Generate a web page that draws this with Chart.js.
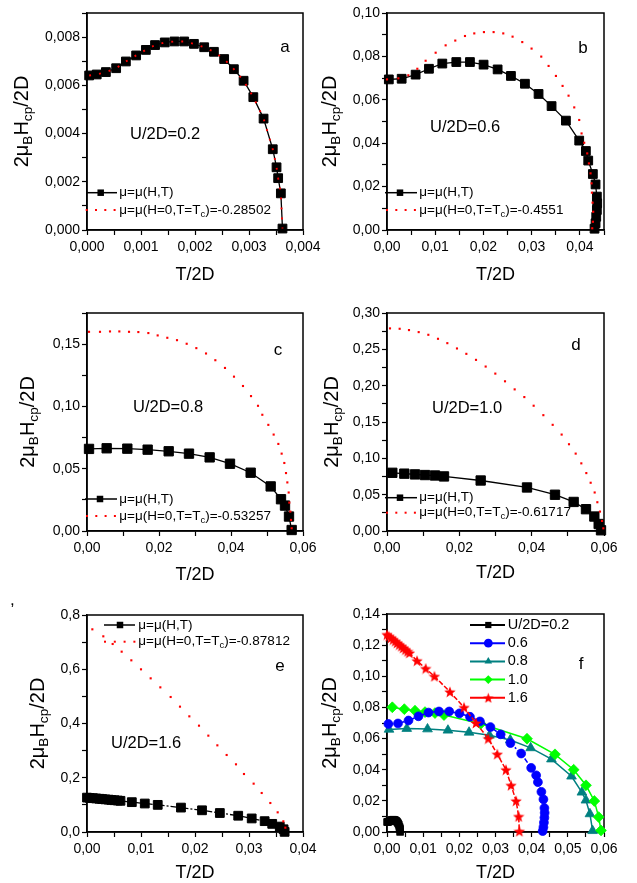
<!DOCTYPE html>
<html>
<head>
<meta charset="utf-8">
<script src="https://cdn.jsdelivr.net/npm/chart.js@4.4.1/dist/chart.umd.min.js"></script>
<style>
  body { margin: 0; background: #fff; width: 637px; height: 883px; position: relative; overflow: hidden; }
  canvas { position: absolute; }
  .stray { position: absolute; left: 10px; top: 590px; font: 17px "Liberation Sans", Arial, sans-serif; }
</style>
</head>
<body>
<canvas id="ca" width="330" height="292" style="left:0;top:0"></canvas>
<canvas id="cb" width="330" height="292" style="left:307px;top:0"></canvas>
<canvas id="cc" width="330" height="292" style="left:0;top:292px"></canvas>
<canvas id="cd" width="330" height="292" style="left:307px;top:292px"></canvas>
<canvas id="ce" width="330" height="299" style="left:0;top:584px"></canvas>
<canvas id="cf" width="330" height="299" style="left:307px;top:584px"></canvas>
<div class="stray">,</div>
<script>
// critical field vs temperature
// a: U/2D = 0.2
const aT = [0.00004, 0.00018, 0.00035, 0.00054, 0.00072, 0.00091, 0.00109, 0.00126, 0.00144, 0.00162, 0.00180, 0.00198,
            0.00217, 0.00235, 0.00254, 0.00272, 0.00290, 0.00308, 0.00327, 0.00344, 0.00351, 0.00354, 0.00359, 0.00362];
const aH = [0.00641, 0.00645, 0.00655, 0.00671, 0.00699, 0.00724, 0.00747, 0.00767, 0.00778, 0.00782, 0.00782, 0.00772,
            0.00758, 0.00739, 0.00709, 0.00667, 0.00619, 0.00551, 0.00462, 0.00335, 0.00260, 0.00215, 0.00152, 0.00006];

// b: U/2D = 0.6
const bT = [0.00038, 0.00304, 0.00594, 0.00870, 0.01147, 0.01437, 0.01720, 0.02003, 0.02294, 0.02570, 0.02860, 0.03143, 0.03413,
            0.03710, 0.03986, 0.04124, 0.04173, 0.04269, 0.04325, 0.04352, 0.04359, 0.04352, 0.04339, 0.04325, 0.04304];
const bH = [0.0694, 0.0697, 0.0716, 0.0743, 0.0767, 0.0774, 0.0774, 0.0762, 0.0740, 0.0710, 0.0674, 0.0627, 0.0571,
            0.0504, 0.0412, 0.0364, 0.0320, 0.0258, 0.0210, 0.0154, 0.0123, 0.0092, 0.0061, 0.0031, 0.0006];
const bRedT = [0, 0.00235, 0.00442, 0.00629, 0.00801, 0.01009, 0.01216, 0.01416, 0.01617, 0.01810, 0.02010, 0.02211, 0.02411,
               0.02604, 0.02805, 0.02998, 0.03199, 0.03351, 0.03503, 0.03641, 0.03765, 0.03883, 0.03986, 0.04035, 0.04090,
               0.04152, 0.04187, 0.04221, 0.04242, 0.04249, 0.04263, 0.04276, 0.04270, 0.04256];
const bRedH = [0.0694, 0.0699, 0.0713, 0.0743, 0.0780, 0.0817, 0.0851, 0.0873, 0.0894, 0.0906, 0.0912, 0.0912, 0.0906,
               0.0891, 0.0866, 0.0836, 0.0799, 0.0756, 0.0710, 0.0664, 0.0619, 0.0565, 0.0507, 0.0445, 0.0402,
               0.0353, 0.0307, 0.0261, 0.0215, 0.0172, 0.0126, 0.0084, 0.0038, 0.0008];

// c: U/2D = 0.8
const cT = [0.00056, 0.00546, 0.01120, 0.01685, 0.02269, 0.02833, 0.03407, 0.03972, 0.04546, 0.05102, 0.05389, 0.05500, 0.05611, 0.05685];
const cH = [0.0659, 0.0664, 0.0661, 0.0653, 0.0640, 0.0621, 0.0591, 0.0540, 0.0468, 0.0358, 0.0255, 0.0204, 0.0116, 0.0008];
const cRedT = [0.00056, 0.00361, 0.00639, 0.00898, 0.01167, 0.01426, 0.01704, 0.01963, 0.02231, 0.02500, 0.02769, 0.03037,
               0.03306, 0.03565, 0.03833, 0.04083, 0.04333, 0.04556, 0.04750, 0.04870, 0.05037, 0.05185, 0.05315, 0.05407,
               0.05481, 0.05528, 0.05565, 0.05602, 0.05620, 0.05648, 0.05667, 0.05685];
const cRedH = [0.1599, 0.1599, 0.1602, 0.1602, 0.1599, 0.1597, 0.1589, 0.1570, 0.1551, 0.1532, 0.1503, 0.1468,
               0.1425, 0.1371, 0.1309, 0.1239, 0.1164, 0.1083, 0.1005, 0.0933, 0.0852, 0.0774, 0.0699, 0.0621,
               0.0546, 0.0465, 0.0390, 0.0309, 0.0228, 0.0156, 0.0089, 0.0022];

// d: U/2D = 1.0
const dT = [0.00147, 0.00479, 0.00774, 0.01051, 0.01327, 0.01576, 0.02590, 0.03871, 0.04645, 0.05161, 0.05502, 0.05733, 0.05853, 0.05917];
const dH = [0.0801, 0.0789, 0.0779, 0.0770, 0.0764, 0.0751, 0.0695, 0.0599, 0.0499, 0.0400, 0.0300, 0.0199, 0.0096, 0.0010];
const dRedT = [0.00083, 0.00350, 0.00608, 0.00876, 0.01143, 0.01410, 0.01668, 0.01935, 0.02194, 0.02461, 0.02728, 0.02995,
               0.03263, 0.03530, 0.03797, 0.04055, 0.04323, 0.04581, 0.04829, 0.05032, 0.05217, 0.05373, 0.05511, 0.05631,
               0.05742, 0.05816, 0.05889, 0.05945, 0.05982];
const dRedH = [0.2788, 0.2783, 0.2765, 0.2737, 0.2700, 0.2645, 0.2585, 0.2512, 0.2438, 0.2355, 0.2263, 0.2166,
               0.2060, 0.1949, 0.1843, 0.1724, 0.1594, 0.1461, 0.1327, 0.1194, 0.1065, 0.0931, 0.0797, 0.0664,
               0.0530, 0.0396, 0.0267, 0.0138, 0.0037];

// e: U/2D = 1.6
const eT = [0.0000, 0.0005, 0.0011, 0.0017, 0.0023, 0.0028, 0.0034, 0.0040, 0.0045, 0.0051, 0.0057, 0.0062, 0.0083,
            0.0107, 0.0131, 0.0174, 0.0213, 0.0246, 0.0280, 0.0305, 0.0329, 0.0343, 0.0357, 0.0364, 0.0366];
const eH = [0.1268, 0.1257, 0.1247, 0.1236, 0.1225, 0.1214, 0.1203, 0.1193, 0.1182, 0.1171, 0.1160, 0.1150, 0.1100,
            0.1050, 0.1000, 0.0900, 0.0800, 0.0700, 0.0600, 0.0500, 0.0400, 0.0300, 0.0200, 0.0100, 0.0005];
const eRedT = [0.00099, 0.00302, 0.00475, 0.00642, 0.00821, 0.01000, 0.01179, 0.01358, 0.01549, 0.01722, 0.01895, 0.02074,
               0.02247, 0.02414, 0.02586, 0.02759, 0.02907, 0.03086, 0.03235, 0.03395, 0.03531, 0.03636, 0.03673];
const eRedH = [0.7472, 0.7214, 0.6931, 0.6648, 0.6329, 0.5997, 0.5665, 0.5333, 0.4977, 0.4621, 0.4264, 0.3920,
               0.3552, 0.3195, 0.2839, 0.2495, 0.2138, 0.1782, 0.1438, 0.1069, 0.0725, 0.0393, 0.0160];

const uValues = ['0.2', '0.6', '0.8', '1.0', '1.6'];
const muC = ['-0.28502', '-0.4551', '-0.53257', '-0.61717', '-0.87812'];

const FONT = '"Liberation Sans", Arial, Helvetica, sans-serif';

function pts(xs, ys) { return xs.map((x, i) => ({x: x, y: ys[i]})); }

// label only the major ticks, comma as decimal sign
function fmt(major, dec) {
  return v => Math.abs(v / major - Math.round(v / major)) < 1e-6 ? v.toFixed(dec).replace('.', ',') : '';
}

function axis(ax, pad) {
  return {
    type: 'linear', min: 0, max: ax.max,
    ticks: {stepSize: ax.step, callback: fmt(ax.major, ax.dec), autoSkip: false, maxRotation: 0,
            color: '#000', font: {family: FONT, size: 14}, padding: pad},
    grid: {drawOnChartArea: false, drawTicks: true, tickLength: 5, tickWidth: 1.2, tickColor: '#000'},
    border: {display: true, color: '#000', width: 1.5}
  };
}

function axes(x, y, yWidth, xHeight) {
  const xs = axis(x, 4);
  xs.position = 'bottom';
  xs.afterFit = s => { s.height = xHeight; };
  const ys = axis(y, 2);
  ys.position = 'left';
  ys.afterFit = s => { s.width = yWidth; };
  return {x: xs, y: ys};
}

function rich(ctx, x, y, parts, size, align) {
  let w = 0;
  for (const p of parts) { ctx.font = (size * p[1]) + 'px ' + FONT; w += ctx.measureText(p[0]).width; }
  let cx = align === 'center' ? x - w / 2 : x;
  ctx.textAlign = 'left';
  for (const p of parts) {
    ctx.font = (size * p[1]) + 'px ' + FONT;
    ctx.fillText(p[0], cx, y + p[2]);
    cx += ctx.measureText(p[0]).width;
  }
}

function marker(ctx, style, x, y, r, color) {
  if (typeof style !== 'string') { ctx.drawImage(style, x - style.width / 2, y - style.height / 2); return; }
  ctx.fillStyle = color;
  ctx.beginPath();
  if (style === 'rect') { const s = r * Math.SQRT1_2; ctx.rect(x - s, y - s, 2 * s, 2 * s); }
  else if (style === 'circle') ctx.arc(x, y, r, 0, Math.PI * 2);
  else if (style === 'triangle') { ctx.moveTo(x, y - r); ctx.lineTo(x + r * 0.866, y + r / 2); ctx.lineTo(x - r * 0.866, y + r / 2); ctx.closePath(); }
  else if (style === 'rectRot') { ctx.moveTo(x - r, y); ctx.lineTo(x, y - r); ctx.lineTo(x + r, y); ctx.lineTo(x, y + r); ctx.closePath(); }
  ctx.fill();
}

function makeStar(size, color) {
  const c = document.createElement('canvas');
  c.width = c.height = size;
  const g = c.getContext('2d');
  const cx = size / 2, cy = size / 2 + 0.6, R = size / 2, r = R * 0.42;
  g.fillStyle = color;
  g.beginPath();
  for (let i = 0; i < 10; i++) {
    const ang = -Math.PI / 2 + i * Math.PI / 5, rr = i % 2 ? r : R;
    g.lineTo(cx + rr * Math.cos(ang), cy + rr * Math.sin(ang));
  }
  g.closePath();
  g.fill();
  return c;
}
const star = makeStar(12, '#ff0000');
const starSmall = makeStar(11, '#ff0000');

// frame, axis titles, panel letter, U label and in-plot legend
const decor = {
  id: 'decor',
  beforeDatasetsDraw(chart) {
    const {ctx, chartArea: a} = chart;
    ctx.save();
    ctx.strokeStyle = '#000';
    ctx.lineWidth = 1.5;
    ctx.strokeRect(a.left, a.top, a.right - a.left, a.bottom - a.top);
    ctx.restore();
  },
  afterDatasetsDraw(chart, args, o) {
    const {ctx, chartArea: a} = chart;
    ctx.save();
    ctx.fillStyle = '#000';
    ctx.textBaseline = 'middle';
    rich(ctx, (a.left + a.right) / 2, a.bottom + o.xTitleDy, [['T/2D', 1, 0]], 18, 'center');
    ctx.save();
    ctx.translate(a.left + o.yTitleDx, (a.top + a.bottom) / 2);
    ctx.rotate(-Math.PI / 2);
    rich(ctx, 0, 0, [['2μ', 1, 0], ['B', 0.68, 6], ['H', 1, 0], ['cp', 0.68, 6], ['/2D', 1, 0]], 20, 'center');
    ctx.restore();
    rich(ctx, a.left + o.letter.x, a.top + o.letter.y, [[o.letter.t, 1, 0]], 17, 'center');
    if (o.label) rich(ctx, a.left + o.label.x, a.top + o.label.y, [[o.label.t, 1, 0]], 16.5, 'left');
    const lg = o.legend;
    for (const row of lg.rows) {
      const y = a.top + row.y;
      if (row.kind === 'line') {
        ctx.strokeStyle = row.color;
        ctx.lineWidth = lg.lw;
        ctx.beginPath();
        ctx.moveTo(a.left + lg.x0, y);
        ctx.lineTo(a.left + lg.x1, y);
        ctx.stroke();
        marker(ctx, row.marker, a.left + lg.mx, y, row.r, row.color);
      } else {
        ctx.fillStyle = row.color;
        for (let i = 0; i < row.n; i++) ctx.fillRect(a.left + row.x0 + i * row.step - 1, y - 1, 2, 2);
      }
      ctx.fillStyle = '#000';
      rich(ctx, a.left + lg.tx, y, row.parts, lg.size, 'left');
    }
    ctx.restore();
  }
};

function blackSeries(T, H, r, dash) {
  return {data: pts(T, H), showLine: true, borderColor: '#000', backgroundColor: '#000', borderWidth: 1.3,
          borderDash: dash || [], pointStyle: 'rect', pointRadius: r, pointBorderWidth: 1, pointBorderColor: '#000',
          clip: false, order: 2};
}
function redDots(T, H) {
  return {data: pts(T, H), showLine: false, pointStyle: 'rect', pointRadius: 1.5, backgroundColor: '#ff0000',
          pointBorderWidth: 0, clip: false, order: 1};
}
function redDotted(T, H) {
  return {data: pts(T, H), showLine: true, borderColor: '#ff0000', borderWidth: 1.9, borderDash: [1.9, 8.1],
          pointRadius: 0, clip: false, order: 1};
}

function muLegend(i, y1, y2, dots) {
  return [
    {y: y1, kind: 'line', color: '#000', marker: 'rect', r: 4.6, parts: [['μ=μ(H,T)', 1, 0]]},
    Object.assign({y: y2, kind: 'dots', color: '#ff0000',
      parts: [['μ=μ(H=0,T=T', 1, 0], ['c', 0.7, 4], [')=' + muC[i], 1, 0]]}, dots)
  ];
}

function makeChart(id, datasets, scales, pad, deco) {
  return new Chart(document.getElementById(id), {
    type: 'scatter',
    data: {datasets: datasets},
    options: {
      responsive: false, animation: false, events: [],
      layout: {padding: pad},
      scales: scales,
      plugins: {legend: {display: false}, tooltip: {enabled: false}, decor: deco}
    },
    plugins: [decor]
  });
}

makeChart('ca', [redDotted(aT, aH), blackSeries(aT, aH, 6.2)],
  axes({max: 0.004, step: 0.0005, major: 0.001, dec: 3}, {max: 0.009, step: 0.001, major: 0.002, dec: 3}, 87, 62),
  {left: 0, top: 13, right: 27, bottom: 0},
  {xTitleDy: 45, yTitleDx: -65, letter: {t: 'a', x: 198, y: 34}, label: {t: 'U/2D=' + uValues[0], x: 43, y: 121},
   legend: {size: 13.5, lw: 1.5, x0: -1, x1: 30, mx: 13.7, tx: 32.3,
            rows: muLegend(0, 179.7, 197, {x0: -0.3, step: 9.3, n: 4})}});

makeChart('cb', [redDots(bRedT, bRedH), blackSeries(bT, bH, 6.2)],
  axes({max: 0.045, step: 0.005, major: 0.01, dec: 2}, {max: 0.10, step: 0.01, major: 0.02, dec: 2}, 80, 62),
  {left: 0, top: 13, right: 33, bottom: 0},
  {xTitleDy: 45, yTitleDx: -57, letter: {t: 'b', x: 196, y: 35}, label: {t: 'U/2D=' + uValues[1], x: 43, y: 114},
   legend: {size: 13.5, lw: 1.5, x0: -2, x1: 30, mx: 13, tx: 32.3,
            rows: muLegend(1, 179.7, 197, {x0: 0, step: 9.3, n: 4})}});

makeChart('cc', [redDots(cRedT, cRedH), blackSeries(cT, cH, 6.6)],
  axes({max: 0.06, step: 0.01, major: 0.02, dec: 2}, {max: 0.175, step: 0.025, major: 0.05, dec: 2}, 87, 53),
  {left: 0, top: 21, right: 27, bottom: 0},
  {xTitleDy: 44, yTitleDx: -59, letter: {t: 'c', x: 191, y: 37}, label: {t: 'U/2D=' + uValues[2], x: 46, y: 94},
   legend: {size: 13.5, lw: 1.5, x0: -2, x1: 30, mx: 13, tx: 32.3,
            rows: muLegend(2, 186, 203, {x0: 0, step: 9.3, n: 4})}});

makeChart('cd', [redDots(dRedT, dRedH), blackSeries(dT, dH, 6.6)],
  axes({max: 0.06, step: 0.01, major: 0.02, dec: 2}, {max: 0.30, step: 0.025, major: 0.05, dec: 2}, 80, 53),
  {left: 0, top: 21, right: 33, bottom: 0},
  {xTitleDy: 42, yTitleDx: -55, letter: {t: 'd', x: 189, y: 32}, label: {t: 'U/2D=' + uValues[3], x: 45, y: 95},
   legend: {size: 13.5, lw: 1.5, x0: -2, x1: 30, mx: 13, tx: 32.3,
            rows: muLegend(3, 184.7, 199.7, {x0: 0, step: 9.3, n: 4})}});

makeChart('ce', [redDots(eRedT, eRedH), blackSeries(eT, eH, 6.2, [6, 2, 2, 2])],
  axes({max: 0.04, step: 0.005, major: 0.01, dec: 2}, {max: 0.8, step: 0.1, major: 0.2, dec: 1}, 87, 51),
  {left: 0, top: 31, right: 27, bottom: 0},
  {xTitleDy: 41, yTitleDx: -49, letter: {t: 'e', x: 193, y: 51}, label: {t: 'U/2D=' + uValues[4], x: 24, y: 128},
   legend: {size: 13.5, lw: 1.5, x0: 17, x1: 48, mx: 33, tx: 51.3,
            rows: muLegend(4, 10, 26.7, {x0: 18, step: 9.8, n: 4})}});

const fLines = [
  {T: aT, H: aH, color: '#000000', style: 'rect', r: 4.8, dash: [], order: 5},
  {T: bT, H: bH, color: '#0000ff', style: 'circle', r: 4.4, dash: [5, 2, 2, 2], order: 2},
  {T: cT, H: cH, color: '#008080', style: 'triangle', r: 5.6, dash: [], order: 4},
  {T: dT, H: dH, color: '#00ff00', style: 'rectRot', r: 5.4, dash: [], order: 3},
  {T: eT, H: eH, color: '#ff0000', style: star, r: 6, dash: [5, 2], order: 1}
];
const fLegendStyles = ['rect', 'circle', 'triangle', 'rectRot', starSmall];
makeChart('cf', fLines.map(s => ({
    data: pts(s.T, s.H), showLine: true, borderColor: s.color, backgroundColor: s.color, borderWidth: 1.5,
    borderDash: s.dash, pointStyle: s.style, pointRadius: s.r, pointBorderWidth: 0.8, pointBorderColor: s.color,
    clip: false, order: s.order})),
  axes({max: 0.06, step: 0.005, major: 0.01, dec: 2}, {max: 0.14, step: 0.01, major: 0.02, dec: 2}, 80, 51),
  {left: 0, top: 30, right: 33, bottom: 0},
  {xTitleDy: 41, yTitleDx: -57, letter: {t: 'f', x: 194, y: 50},
   legend: {size: 14.5, lw: 2, x0: 83, x1: 118, mx: 101.3, tx: 120.7,
            rows: uValues.map((u, i) => ({y: 11 + i * 18.2, kind: 'line', color: fLines[i].color,
              marker: fLegendStyles[i], r: 4.4, parts: [[(i === 0 ? 'U/2D=' : '') + u, 1, 0]]}))}});
</script>
</body>
</html>
